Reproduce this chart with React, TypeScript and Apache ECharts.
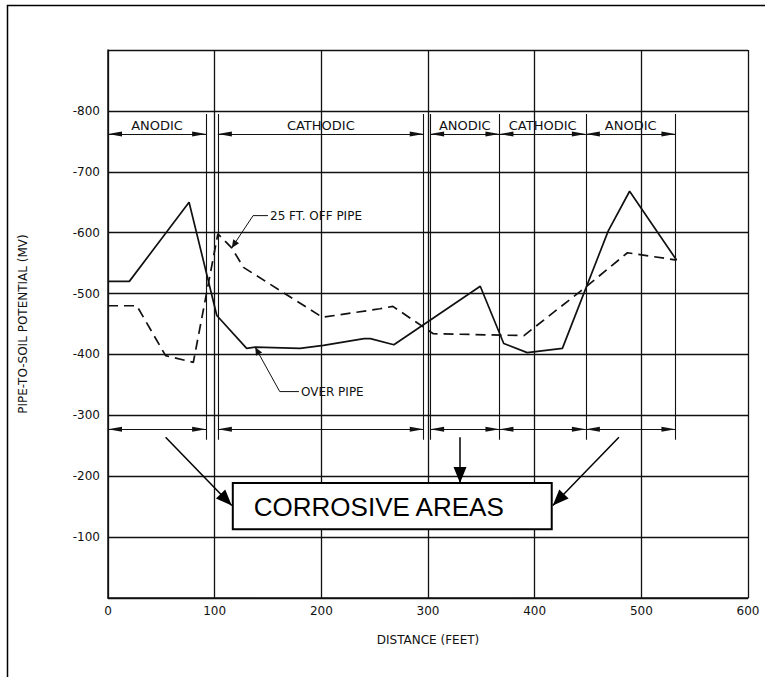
import React, { useEffect, useRef } from "react";
import * as echarts from "echarts";

// ---- data ----
const xTicks = [0, 100, 200, 300, 400, 500, 600];
const yMin = -900;
const yMax = 0;

// "OVER PIPE" (solid)  [distance ft, potential mV]
const overPipe: [number, number][] = [
  [0, -520], [20, -520], [76, -650], [102, -464], [130, -410], [138, -412],
  [180, -410], [202, -415], [240, -426], [246, -426], [268, -416], [349, -512],
  [371, -418], [393, -403], [426, -410], [469, -603], [489, -668], [533, -555],
];

// "25 FT. OFF PIPE" (dashed)
const offPipe: [number, number][] = [
  [0, -480], [27, -480], [54, -398], [80, -387], [103, -598], [116, -575],
  [127, -543], [201, -461], [255, -475], [267, -479], [305, -434], [390, -431],
  [446, -508], [487, -567], [533, -555],
];

// zone boundaries and labels
const boundaries = [92, 103, 296, 302, 367, 448, 532];
const zoneStarts = [0, 103, 302, 367, 448];
const zoneEnds = [92, 296, 367, 448, 532];
const zoneNames = ["ANODIC", "CATHODIC", "ANODIC", "CATHODIC", "ANODIC"];
const zoneRowY = -762;
const corrosiveRowY = -277;
const boundaryTop = -795;
const boundaryBottom = -260;

// annotations (data coordinates)
const offPipeLeader: [number, number][] = [[150, -628], [136, -628], [116, -575]];
const overPipeLeader: [number, number][] = [[179, -339], [161, -339], [138, -412]];
const corrosiveBox: [number, number][] = [[117, -189], [416, -113]];
const corrosiveArrows: [number, number][][] = [
  [[54, -264], [116, -152]],
  [[330, -264], [330, -189]],
  [[479, -264], [417, -152]],
];

const FONT = "DejaVu Sans";
const INK = "#111";

function arrowHead(from: number[], to: number[], len: number, half: number) {
  const dx = to[0] - from[0];
  const dy = to[1] - from[1];
  const d = Math.hypot(dx, dy) || 1;
  const ux = dx / d, uy = dy / d;
  const bx = to[0] - ux * len, by = to[1] - uy * len;
  const px = -uy * half, py = ux * half;
  return [
    [to[0], to[1]],
    [bx + px, by + py],
    [bx - px, by - py],
  ];
}

export default function App() {
  const ref = useRef<HTMLDivElement>(null);

  useEffect(() => {
    document.body.style.margin = "0";
    if (!ref.current) return;
    const chart = echarts.init(ref.current, undefined, { renderer: "svg" });

    const arrowEnd = {
      symbol: "triangle",
      symbolSize: [5, 14],
      symbolOffset: [0, 7],
      itemStyle: { color: INK },
    };

    const markData: any[] = [];
    boundaries.forEach((b) => {
      markData.push([
        { coord: [b, boundaryTop], symbol: "none" },
        { coord: [b, boundaryBottom], symbol: "none" },
      ]);
    });
    zoneStarts.forEach((s, i) => {
      markData.push([
        {
          coord: [s, zoneRowY],
          ...arrowEnd,
          label: {
            show: true,
            formatter: zoneNames[i],
            position: "insideMiddleTop",
            distance: 2,
            color: INK,
            fontFamily: FONT,
            fontSize: 13,
          },
        },
        { coord: [zoneEnds[i], zoneRowY], ...arrowEnd },
      ]);
      markData.push([
        { coord: [s, corrosiveRowY], ...arrowEnd },
        { coord: [zoneEnds[i], corrosiveRowY], ...arrowEnd },
      ]);
    });

    chart.setOption({
      animation: false,
      backgroundColor: "#fff",
      grid: { left: 108, right: 17, top: 50, bottom: 79, show: false },
      xAxis: {
        type: "value",
        min: 0,
        max: 600,
        interval: 100,
        name: "DISTANCE (FEET)",
        nameLocation: "middle",
        nameGap: 36,
        nameTextStyle: { color: INK, fontFamily: FONT, fontSize: 12 },
        axisLine: { show: true, lineStyle: { color: INK, width: 1.5 } },
        axisTick: { show: false },
        axisLabel: {
          color: INK,
          fontFamily: FONT,
          fontSize: 12,
          margin: 7,
          formatter: (v: number) => (xTicks.includes(v) ? String(v) : ""),
        },
        splitLine: { show: true, lineStyle: { color: INK, width: 1.3 } },
      },
      yAxis: {
        type: "value",
        min: yMin,
        max: yMax,
        interval: 100,
        inverse: true,
        name: "PIPE-TO-SOIL POTENTIAL (MV)",
        nameLocation: "middle",
        nameRotate: 90,
        nameGap: 79,
        nameTextStyle: { color: INK, fontFamily: FONT, fontSize: 12 },
        axisLine: { show: true, lineStyle: { color: INK, width: 1.5 } },
        axisTick: { show: false },
        axisLabel: {
          color: INK,
          fontFamily: FONT,
          fontSize: 12,
          margin: 8,
          formatter: (v: number) => (v === 0 || v === yMin ? "" : String(v)),
        },
        splitLine: { show: true, lineStyle: { color: INK, width: 1.3 } },
      },
      series: [
        {
          name: "OVER PIPE",
          type: "line",
          data: overPipe,
          showSymbol: false,
          silent: true,
          color: INK,
          lineStyle: { color: INK, width: 1.7 },
          z: 4,
          markLine: {
            silent: true,
            symbol: "none",
            animation: false,
            label: { show: false },
            emphasis: { disabled: true },
            lineStyle: { color: INK, width: 1.1, type: "solid" },
            data: markData,
          },
        },
        {
          name: "25 FT. OFF PIPE",
          type: "line",
          data: offPipe,
          showSymbol: false,
          silent: true,
          color: INK,
          lineStyle: { color: INK, width: 1.7, type: [10, 6] },
          z: 4,
        },
      ],
    });

    const px = (p: number[]) => chart.convertToPixel({ gridIndex: 0 }, p) as number[];

    const graphics: any[] = [];
    // outer frame
    graphics.push({
      type: "rect",
      shape: { x: 7.5, y: 5.5, width: 820, height: 820 },
      style: { fill: "none", stroke: "#000", lineWidth: 1.5 },
      silent: true,
    });

    const leader = (pts: [number, number][], text: string) => {
      const p = pts.map(px);
      graphics.push({
        type: "polyline",
        shape: { points: p },
        style: { stroke: INK, lineWidth: 1, fill: "none" },
        silent: true,
      });
      graphics.push({
        type: "polygon",
        shape: { points: arrowHead(p[1], p[2], 8, 3.5) },
        style: { fill: INK },
        silent: true,
      });
      graphics.push({
        type: "text",
        x: p[0][0] + 2,
        y: p[0][1],
        style: {
          text,
          fill: INK,
          font: `12px "${FONT}"`,
          textAlign: "left",
          textVerticalAlign: "middle",
        },
        silent: true,
      });
    };
    leader(offPipeLeader, "25 FT. OFF PIPE");
    leader(overPipeLeader, "OVER PIPE");

    const b0 = px(corrosiveBox[0]);
    const b1 = px(corrosiveBox[1]);
    graphics.push({
      type: "rect",
      shape: { x: b0[0], y: b0[1], width: b1[0] - b0[0], height: b1[1] - b0[1] },
      style: { fill: "#fff", stroke: "#000", lineWidth: 2 },
      silent: true,
      z: 10,
    });
    graphics.push({
      type: "text",
      x: b0[0] + 21,
      y: (b0[1] + b1[1]) / 2 + 1,
      style: {
        text: "CORROSIVE AREAS",
        fill: "#000",
        font: `26px "Liberation Sans"`,
        textAlign: "left",
        textVerticalAlign: "middle",
      },
      silent: true,
      z: 11,
    });
    corrosiveArrows.forEach((a) => {
      const s = px(a[0]);
      const e = px(a[1]);
      graphics.push({
        type: "line",
        shape: { x1: s[0], y1: s[1], x2: e[0], y2: e[1] },
        style: { stroke: "#000", lineWidth: 1.5 },
        silent: true,
        z: 11,
      });
      graphics.push({
        type: "polygon",
        shape: { points: arrowHead(s, e, 16, 6.5) },
        style: { fill: "#000" },
        silent: true,
        z: 11,
      });
    });

    chart.setOption({ graphic: graphics });

    return () => chart.dispose();
  }, []);

  return <div ref={ref} style={{ width: 765, height: 677 }} />;
}
